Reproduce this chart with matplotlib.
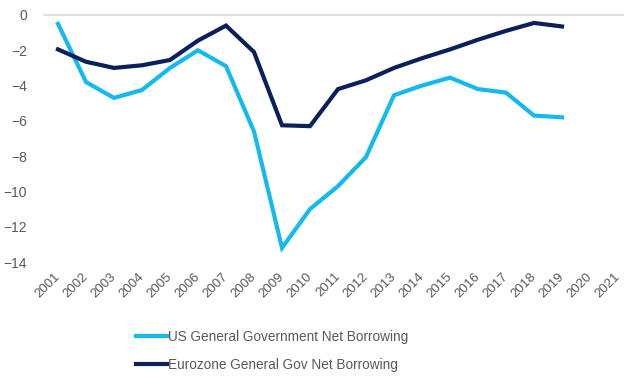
import matplotlib.pyplot as plt
import matplotlib.transforms as mtransforms

plt.rcParams['font.family'] = ['Liberation Sans', 'DejaVu Sans']

years = [str(y) for y in range(2001, 2022)]
us_borrowing = [-0.5, -3.8, -4.7, -4.25, -3.0, -2.0, -2.9, -6.6, -13.2, -11.0,
                -9.7, -8.05, -4.55, -4.0, -3.55, -4.2, -4.4, -5.7, -5.8]
ez_borrowing = [-1.95, -2.65, -3.0, -2.85, -2.55, -1.45, -0.6, -2.1, -6.25, -6.3,
                -4.2, -3.7, -3.0, -2.45, -1.95, -1.4, -0.9, -0.45, -0.65]

light_blue = '#14BAEE'
navy = '#0B1F5C'
grey = '#595959'

fig = plt.figure(figsize=(6.24, 3.77), dpi=100)
ax = fig.add_axes([44 / 624, 1 - 262 / 377, 588 / 624, 247 / 377])

x = list(range(len(years)))
ax.plot(x[:len(us_borrowing)], us_borrowing, color=light_blue, lw=3,
        solid_joinstyle='miter', clip_on=False,
        label='US General Government Net Borrowing')
ax.plot(x[:len(ez_borrowing)], ez_borrowing, color=navy, lw=3,
        solid_joinstyle='miter', clip_on=False,
        label='Eurozone General Gov Net Borrowing')

ax.set_xlim(-0.5, len(years) - 0.5)
ax.set_ylim(-14, 0)
ax.set_yticks(range(-14, 1, 2))
ax.set_xticks(x)
ax.set_xticklabels(years, rotation=45, ha='right', va='top',
                   rotation_mode='anchor')
ax.tick_params(axis='both', length=0, labelcolor=grey)
ax.tick_params(axis='y', pad=12, labelsize=10)
ax.tick_params(axis='x', pad=6, labelsize=9.5)

# nudge the slanted year labels so their ends sit under the ticks
shift = mtransforms.ScaledTranslation(-4 / 100, 0, fig.dpi_scale_trans)
for lbl in ax.get_xticklabels():
    lbl.set_transform(lbl.get_transform() + shift)

for side in ['left', 'right', 'bottom']:
    ax.spines[side].set_visible(False)
ax.spines['top'].set_color('#D9D9D9')
ax.spines['top'].set_linewidth(1.2)

fig.legend(loc='center', bbox_to_anchor=(272 / 624, 1 - 351 / 377),
           frameon=False, fontsize=9.8, handlelength=2.3, handletextpad=0.1,
           labelspacing=1.0, labelcolor=grey)

fig.savefig('out.png', dpi=100)
